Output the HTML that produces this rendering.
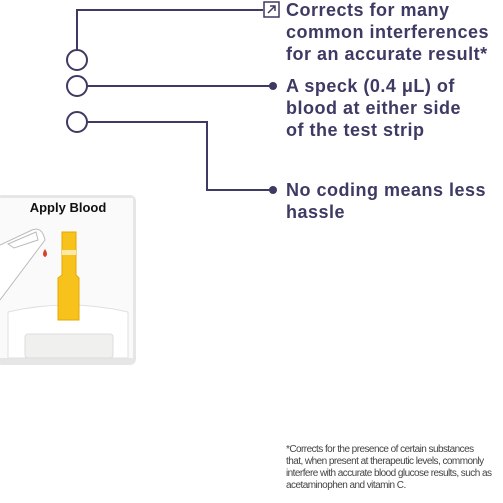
<!DOCTYPE html>
<html><head><meta charset="utf-8"><style>
body{margin:0;width:503px;height:503px;background:#fff;position:relative;overflow:hidden;font-family:"Liberation Sans",sans-serif}
.t{position:absolute;left:286px;color:#3d3a63;font-size:18px;line-height:22px;font-weight:700;letter-spacing:0.5px;white-space:nowrap}
.fn{position:absolute;left:286px;top:444px;width:206px;color:#444;font-size:10px;line-height:12px;letter-spacing:-0.55px}
</style></head><body>
<svg width="503" height="503" style="position:absolute;left:0;top:0">
<g fill="none" stroke="#3d3a63" stroke-width="2">
<path d="M77 50 V10 H263"/>
<path d="M87 86 H273"/>
<path d="M87 122 H207 V190 H273"/>
<circle cx="77" cy="60" r="10" fill="#fff"/>
<circle cx="77" cy="86" r="10" fill="#fff"/>
<circle cx="77" cy="122" r="10" fill="#fff"/>
<rect x="264" y="2" width="15" height="15" stroke-width="1.5"/>
<path d="M268 13 L275 6 M270 6 H275 V11" stroke-width="1.5"/>
</g>
<circle cx="273" cy="86" r="4" fill="#3d3a63"/>
<circle cx="273" cy="190" r="4" fill="#3d3a63"/>
<g>
<rect x="-4" y="195" width="140" height="170" rx="6" fill="#e6e6e6"/>
<rect x="0" y="198" width="133" height="160" fill="#fafafa"/>
<text x="68" y="212" text-anchor="middle" font-size="13" font-weight="700" fill="#111" font-family="Liberation Sans,sans-serif">Apply Blood</text>
<path d="M0 245 L32 230 Q42 226 45 240 L0 300" fill="#fff" stroke="#bbb" stroke-width="1"/>
<path d="M8 244 L36 232 L38 240 L14 248 Z" fill="none" stroke="#bbb" stroke-width="1"/>
<path d="M45 249 Q41 255 45 257 Q49 255 45 249Z" fill="#d9422a"/>
<path d="M8 312 Q68 298 128 312 V358 H8 Z" fill="#fff" stroke="#e0e0e0"/>
<rect x="25" y="334" width="88" height="24" rx="3" fill="#f0f0ee" stroke="#ddd"/>
<path d="M62 232 H76 V275 L79 278 V320 H58 V278 L62 275 Z" fill="#f6c21b" stroke="#e8a800" stroke-width="1"/>
<rect x="62" y="250" width="14" height="5" fill="#fde9a5"/>
</g>
</svg>
<div class="t" style="top:-1px">Corrects for many<br>common interferences<br>for an accurate result*</div>
<div class="t" style="top:75px">A speck (0.4 μL) of<br>blood at either side<br>of the test strip</div>
<div class="t" style="top:179px">No coding means less<br>hassle</div>
<div class="fn">*Corrects for the presence of certain substances that, when present at therapeutic levels, commonly interfere with accurate blood glucose results, such as acetaminophen and vitamin C.</div>
</body></html>
